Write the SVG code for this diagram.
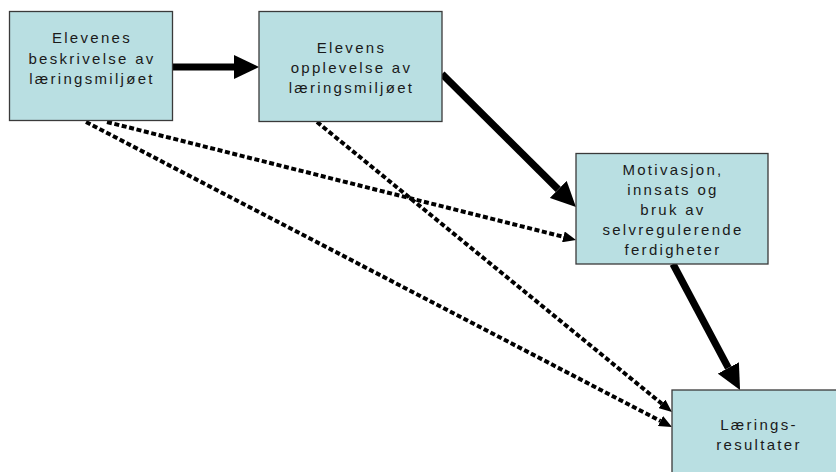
<svg xmlns="http://www.w3.org/2000/svg" width="836" height="472" viewBox="0 0 836 472">
<style>
.box{fill:#b9dfe2;stroke:#3a3a3a;stroke-width:1.3}
.lbl{font-family:"Liberation Sans",Arial,sans-serif;font-size:15px;letter-spacing:2.3px;fill:#1a1a1a;text-anchor:middle}
.thick{fill:none;stroke:#000;stroke-width:7.2}
.dot{fill:none;stroke:#000;stroke-width:4;stroke-dasharray:5 2.6}
</style>
<defs>
<marker id="bigHead" viewBox="0 -12 25 24" refX="0" refY="0" markerWidth="25" markerHeight="24" markerUnits="userSpaceOnUse" orient="auto">
<path d="M0,-12 L25,0 L0,12 z" fill="#000"/>
</marker>
<marker id="smallHead" viewBox="0 -5.5 13 11" refX="0" refY="0" markerWidth="13" markerHeight="11" markerUnits="userSpaceOnUse" orient="auto">
<path d="M0,-5.5 L13,0 L0,5.5 z" fill="#000"/>
</marker>
</defs>
<rect width="836" height="472" fill="#fff"/>
<g id="connectors">
<path class="thick" d="M172,67 L234,67" marker-end="url(#bigHead)"/>
<path class="thick" d="M442,74 L558.2,189.4" marker-end="url(#bigHead)"/>
<path class="thick" d="M673,264 L728.3,367.9" marker-end="url(#bigHead)"/>
<path class="dot" d="M107,122 L563.4,236.8" marker-end="url(#smallHead)"/>
<path class="dot" d="M86,122 L660.5,421" marker-end="url(#smallHead)"/>
<path class="dot" d="M317,122 L661.9,403.8" marker-end="url(#smallHead)"/>
</g>
<g id="node1">
<rect class="box" x="9.5" y="11.5" width="163" height="109"/>
<text class="lbl" x="92" y="43">Elevenes</text>
<text class="lbl" x="92" y="63.5">beskrivelse av</text>
<text class="lbl" x="92" y="83.5">læringsmiljøet</text>
</g>
<g id="node2">
<rect class="box" x="259" y="11.5" width="183" height="110"/>
<text class="lbl" x="351.5" y="53">Elevens</text>
<text class="lbl" x="351.5" y="73">opplevelse av</text>
<text class="lbl" x="351.5" y="93">læringsmiljøet</text>
</g>
<g id="node3">
<rect class="box" x="576" y="153.5" width="192" height="110.5"/>
<text class="lbl" x="673" y="175">Motivasjon,</text>
<text class="lbl" x="673" y="195">innsats og</text>
<text class="lbl" x="673" y="215">bruk av</text>
<text class="lbl" x="673" y="235">selvregulerende</text>
<text class="lbl" x="673" y="254.5">ferdigheter</text>
</g>
<g id="node4">
<rect class="box" x="672" y="390" width="175" height="95"/>
<text class="lbl" x="759" y="430">Lærings-</text>
<text class="lbl" x="759" y="450">resultater</text>
</g>
</svg>
